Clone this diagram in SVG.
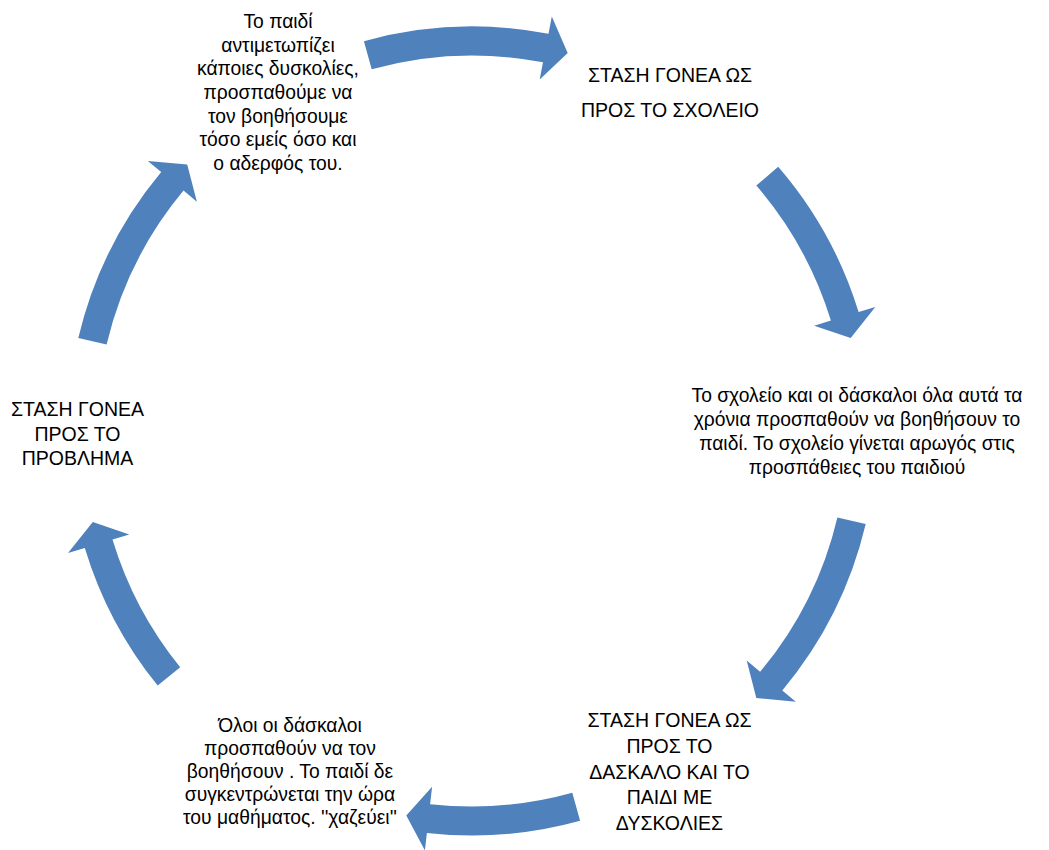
<svg xmlns="http://www.w3.org/2000/svg" width="1049" height="850" viewBox="0 0 1049 850">
<style>
.arrow{fill:#4F81BD;stroke:none}
.t{font-family:"Liberation Sans",Arial,sans-serif;font-size:19.3px;fill:#000;text-anchor:middle}
.c{font-size:19.5px}
</style>
<rect width="1049" height="850" fill="#fff"/>
<g id="connectors">
<path class="arrow" d="M363.9,41.2 A404.5,404.5 0 0 1 548.5,33.8 L551.8,16.6 L567.7,52.9 L539.7,79.4 L543.0,62.3 A375.5,375.5 0 0 0 371.7,69.2 Z"/>
<path class="arrow" d="M778.2,166.7 A404.5,404.5 0 0 1 858.6,312.1 L875.3,306.9 L850.7,338.0 L814.2,325.7 L830.9,320.6 A375.5,375.5 0 0 0 756.3,185.6 Z"/>
<path class="arrow" d="M865.7,524.0 A404.5,404.5 0 0 1 782.3,690.4 L795.8,701.7 L756.3,698.0 L746.7,660.6 L760.1,671.8 A375.5,375.5 0 0 0 837.4,517.4 Z"/>
<path class="arrow" d="M580.1,820.8 A404.5,404.5 0 0 1 426.9,833.0 L424.9,850.4 L406.3,815.4 L432.1,786.8 L430.1,804.2 A375.5,375.5 0 0 0 572.3,792.8 Z"/>
<path class="arrow" d="M157.7,685.6 A404.5,404.5 0 0 1 84.8,547.9 L68.0,553.0 L92.8,522.0 L129.3,534.5 L112.5,539.5 A375.5,375.5 0 0 0 180.2,667.3 Z"/>
<path class="arrow" d="M78.3,338.0 A404.5,404.5 0 0 1 161.2,172.1 L147.8,160.9 L187.2,164.5 L196.9,201.8 L183.5,190.6 A375.5,375.5 0 0 0 106.6,344.6 Z"/>
</g>
<g id="node-top-left">
<text class="t" x="278" y="28">Το παιδί</text>
<text class="t" x="278" y="51.7">αντιμετωπίζει</text>
<text class="t" x="278" y="75.3">κάποιες δυσκολίες,</text>
<text class="t" x="278" y="99">προσπαθούμε να</text>
<text class="t" x="278" y="122.7">τον βοηθήσουμε</text>
<text class="t" x="278" y="146.3">τόσο εμείς όσο και</text>
<text class="t" x="278" y="170">ο αδερφός του.</text>
</g>
<g id="node-top-right">
<text class="t c" x="670" y="82">ΣΤΑΣΗ ΓΟΝΕΑ ΩΣ</text>
<text class="t c" x="670" y="117">ΠΡΟΣ ΤΟ ΣΧΟΛΕΙΟ</text>
</g>
<g id="node-right">
<text class="t" x="857" y="402">Το σχολείο και οι δάσκαλοι όλα αυτά τα</text>
<text class="t" x="857" y="426">χρόνια προσπαθούν να βοηθήσουν το</text>
<text class="t" x="857" y="450">παιδί. Το σχολείο γίνεται αρωγός στις</text>
<text class="t" x="857" y="474">προσπάθειες του παιδιού</text>
</g>
<g id="node-bottom-right">
<text class="t c" x="669.5" y="727">ΣΤΑΣΗ ΓΟΝΕΑ ΩΣ</text>
<text class="t c" x="669.5" y="753">ΠΡΟΣ ΤΟ</text>
<text class="t c" x="669.5" y="779">ΔΑΣΚΑΛΟ ΚΑΙ ΤΟ</text>
<text class="t c" x="669.5" y="804">ΠΑΙΔΙ ΜΕ</text>
<text class="t c" x="669.5" y="830">ΔΥΣΚΟΛΙΕΣ</text>
</g>
<g id="node-bottom-left">
<text class="t" x="290" y="732">Όλοι οι δάσκαλοι</text>
<text class="t" x="290" y="755">προσπαθούν να τον</text>
<text class="t" x="290" y="778">βοηθήσουν . Το παιδί δε</text>
<text class="t" x="290" y="801">συγκεντρώνεται την ώρα</text>
<text class="t" x="290" y="824">του μαθήματος. ''χαζεύει''</text>
</g>
<g id="node-left">
<text class="t c" x="77.5" y="416">ΣΤΑΣΗ ΓΟΝΕΑ</text>
<text class="t c" x="77.5" y="441">ΠΡΟΣ ΤΟ</text>
<text class="t c" x="77.5" y="465">ΠΡΟΒΛΗΜΑ</text>
</g>
</svg>
